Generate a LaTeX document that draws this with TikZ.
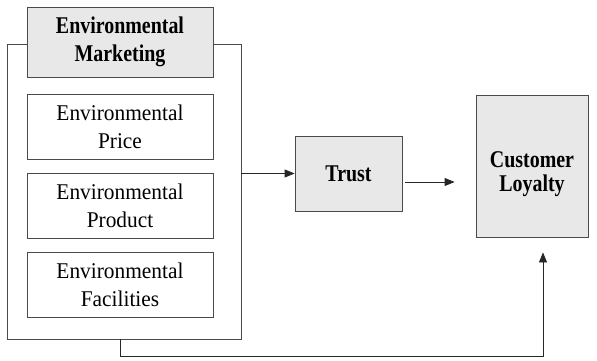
\documentclass[tikz,border=0pt]{standalone}
\usepackage{fontspec}
\setmainfont{Liberation Serif}[FakeStretch=0.95]
\newfontfamily\headfont{Liberation Serif}[FakeStretch=0.83]
\usetikzlibrary{arrows.meta}
\definecolor{boxfill}{HTML}{E8E8E8}
\definecolor{edge}{HTML}{4A4A4A}
\begin{document}
\begin{tikzpicture}[x=1pt,y=-1pt,
  line width=0.8pt,
  plainbox/.style={draw=edge, fill=white, minimum width=186pt, minimum height=65pt,
    inner sep=0pt, align=center, font=\fontsize{22.5}{28}\selectfont},
  greybox/.style={draw=edge, fill=boxfill, inner sep=0pt, align=center,
    font=\headfont\bfseries\fontsize{24}{28}\selectfont},
  boldtext/.style={inner sep=0pt, align=center, font=\headfont\bfseries\fontsize{24}{24}\selectfont},
  link/.style={draw=black!85, line width=0.8pt, -{Triangle[length=10pt,width=8pt]}}
]
\useasboundingbox (0,0) rectangle (597,361);

% outer frame holding the three marketing dimensions
\node[draw=edge, minimum width=234pt, minimum height=295pt, inner sep=0pt] (frame) at (124,191.5) {};

% header of the frame
\node[greybox, minimum width=186pt, minimum height=70pt] (mkt) at (120,42) {Environmental\\Marketing};

% dimensions
\node[plainbox] (price) at (120,126.5) {Environmental\\Price};
\node[plainbox] (product) at (120,205.5) {Environmental\\Product};
\node[plainbox] (facil) at (120,284.5) {Environmental\\Facilities};

% mediator and outcome
\node[greybox, minimum width=107pt, minimum height=75pt] (trust) at (348.5,173.5) {Trust};
\node[draw=edge, fill=boxfill, minimum width=112pt, minimum height=142pt, inner sep=0pt] (loyal) at (532,166) {};
\node[boldtext] (loyaltext) at (532,174) {Customer\\Loyalty};

% connectors
\draw[link] (frame.east |- trust.west) -- (trust.west);
\draw[link, shorten <=3pt, shorten >=21pt] ([yshift=-8.5pt]trust.east) -- ([yshift=-8.5pt]trust.east -| loyal.west);
\coordinate (low) at (120,356);
\draw[link, shorten >=15pt] ([xshift=-4pt]frame.south) -- ([xshift=-4pt]frame.south |- low) -- (low -| 543,0) -- (543,0 |- loyal.south);
\end{tikzpicture}
\end{document}
